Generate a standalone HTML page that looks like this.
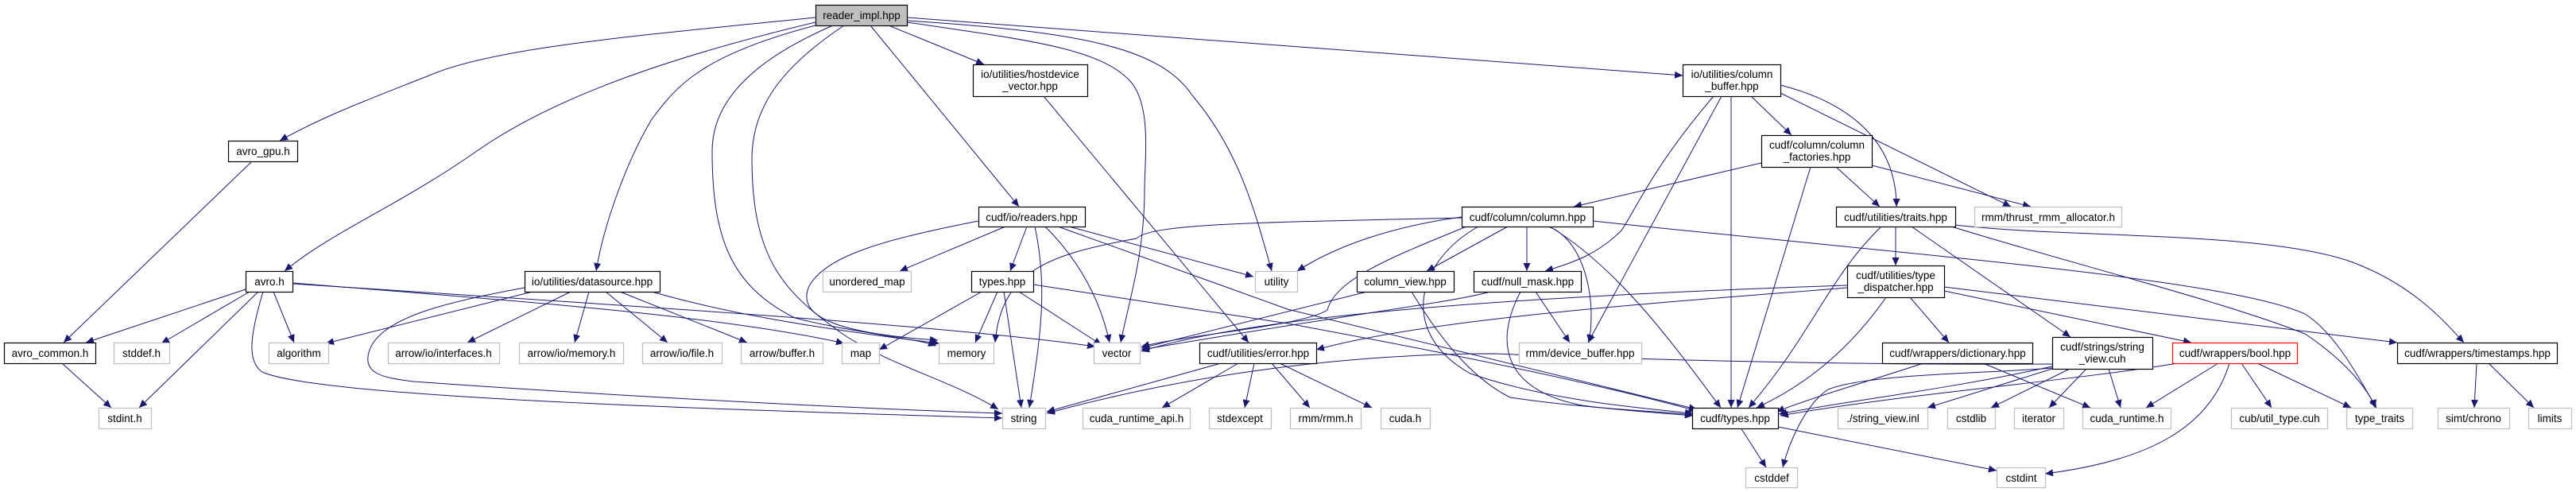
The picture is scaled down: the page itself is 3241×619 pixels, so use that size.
<!DOCTYPE html>
<html><head><meta charset="utf-8"><style>
html,body{margin:0;padding:0;background:#fff;}
svg{display:block;}
text{font-family:"Liberation Sans",Arial,sans-serif;font-size:13.5px;fill:#000;text-anchor:middle;}
.n{fill:#fff;stroke:#000;stroke-width:1.2;}
.g{fill:#fff;stroke:#bfbfbf;stroke-width:1.2;}
.r{fill:#fff;stroke:#ff0000;stroke-width:1.2;}
.e{fill:none;stroke:#191970;stroke-width:1;marker-end:url(#a);}
</style></head><body>
<svg width="3241" height="619" viewBox="0 0 3241 619" xmlns="http://www.w3.org/2000/svg">
<defs><marker id="a" markerUnits="userSpaceOnUse" markerWidth="11" markerHeight="9" refX="10" refY="4.5" orient="auto"><path d="M0,0 L10,4.5 L0,9 Z" fill="#191970"/></marker></defs>

<g>
<path class="e" d="M1026,22 C800,45 620,60 540,95 C450,130 400,150 352,177"/>
<path class="e" d="M1026,28 C850,70 700,120 600,190 C500,260 420,290 358,341"/>
<path class="e" d="M1026,32 C880,70 850,110 820,150 C790,200 760,280 750,341"/>
<path class="e" d="M1048,32 C960,70 896,120 896,190 C896,300 920,360 1000,400 C1080,420 1150,425 1178,435"/>
<path class="e" d="M1062,32 C990,80 946,130 946,200 C946,330 990,370 1060,420 C1120,460 1200,480 1256,515"/>
<path class="e" d="M1118,32 L1238,81"/>
<path class="e" d="M1095,32 L1282,260"/>
<path class="e" d="M1141,28 C1290,50 1380,60 1420,100 C1450,130 1440,200 1440,240 C1440,320 1420,380 1410,431"/>
<path class="e" d="M1141,26 C1360,40 1460,60 1500,120 C1560,190 1580,270 1600,341"/>
<path class="e" d="M1141,22 L2117,95"/>
<path class="e" d="M1313,121 L1571,431"/>
<path class="e" d="M1265,285 L1132,341"/>
<path class="e" d="M1292,285 L1271,341"/>
<path class="e" d="M1302,285 C1318,360 1310,420 1295,513"/>
<path class="e" d="M1315,285 C1360,330 1385,380 1396,431"/>
<path class="e" d="M1345,285 L1577,348"/>
<path class="e" d="M1331,285 L1620,389 L2135,515"/>
<path class="e" d="M1231,278 C1120,300 1040,320 1018,360 C1000,400 1060,420 1180,428"/>
<path class="e" d="M1235,367 L1106,440"/>
<path class="e" d="M1255,367 L1227,431"/>
<path class="e" d="M1263,367 L1285,513"/>
<path class="e" d="M1282,367 L1386,434"/>
<path class="e" d="M1300,358 L1620,407 C1800,440 2000,480 2135,517"/>
<path class="e" d="M309,364 L108,431"/>
<path class="e" d="M314,367 L203,432"/>
<path class="e" d="M325,367 L175,513"/>
<path class="e" d="M344,367 L370,431"/>
<path class="e" d="M331,367 C315,420 310,455 330,468 C400,500 900,515 1261,526"/>
<path class="e" d="M368,356 C600,375 900,395 1062,432"/>
<path class="e" d="M368,357 C800,385 1200,410 1378,436"/>
<path class="e" d="M317,203 L80,431"/>
<path class="e" d="M78,457 L140,513"/>
<path class="e" d="M670,367 L410,432"/>
<path class="e" d="M718,367 L588,431"/>
<path class="e" d="M741,367 L723,431"/>
<path class="e" d="M762,367 L840,431"/>
<path class="e" d="M780,367 L940,431"/>
<path class="e" d="M660,362 C560,380 480,400 465,440 C455,470 480,475 520,480 C800,500 1100,515 1261,520"/>
<path class="e" d="M820,367 C900,390 1000,410 1182,432"/>
<path class="e" d="M1536,457 L1317,518"/>
<path class="e" d="M1558,457 L1462,513"/>
<path class="e" d="M1578,457 L1566,513"/>
<path class="e" d="M1600,457 L1648,513"/>
<path class="e" d="M1610,457 L1726,513"/>
<path class="e" d="M2156,121 C2080,210 2060,260 2040,290 C2010,320 1980,330 1944,341"/>
<path class="e" d="M2166,121 L1998,431"/>
<path class="e" d="M2178,121 L2178,513"/>
<path class="e" d="M2203,121 L2254,170"/>
<path class="e" d="M2240,107 C2330,130 2386,180 2386,260"/>
<path class="e" d="M2240,117 L2530,260"/>
<path class="e" d="M2216,205 L1980,260"/>
<path class="e" d="M2278,210 L2186,513"/>
<path class="e" d="M2310,210 L2365,260"/>
<path class="e" d="M2355,208 L2555,260"/>
<path class="e" d="M1839,273 C1750,285 1680,310 1632,341"/>
<path class="e" d="M1845,285 C1760,320 1680,350 1670,390 C1640,410 1500,420 1436,436"/>
<path class="e" d="M1839,274 C1600,280 1450,280 1430,300 C1320,320 1260,340 1252,431"/>
<path class="e" d="M1897,285 L1795,341"/>
<path class="e" d="M1921,285 L1921,341"/>
<path class="e" d="M1948,285 C1990,300 2010,370 1999,431"/>
<path class="e" d="M1950,285 C2040,340 2110,440 2165,513"/>
<path class="e" d="M2004,278 C2400,320 2800,350 2900,395 C2940,420 2970,480 2990,513"/>
<path class="e" d="M1860,285 C1780,330 1760,420 1850,470 C1950,505 2080,515 2130,520"/>
<path class="e" d="M1720,367 L1436,438"/>
<path class="e" d="M1776,367 C1820,440 1860,480 1900,500 C2000,515 2100,518 2130,522"/>
<path class="e" d="M1875,367 C1830,380 1700,395 1436,440"/>
<path class="e" d="M1932,367 L1975,431"/>
<path class="e" d="M1913,367 C1880,430 1890,490 1990,510 C2050,518 2100,520 2130,523"/>
<path class="e" d="M2367,285 C2300,350 2280,420 2200,513"/>
<path class="e" d="M2385,285 L2385,334"/>
<path class="e" d="M2405,285 L2605,424"/>
<path class="e" d="M2455,285 C2600,330 2800,380 2900,420 C2960,460 2985,500 2988,513"/>
<path class="e" d="M2460,283 C2600,300 2850,290 2960,330 C3040,360 3080,410 3100,431"/>
<path class="e" d="M2324,359 C2000,370 1600,390 1436,442"/>
<path class="e" d="M2324,362 C2100,380 1800,400 1656,440"/>
<path class="e" d="M2373,374 C2320,450 2260,490 2210,513"/>
<path class="e" d="M2403,374 L2452,431"/>
<path class="e" d="M2446,366 L2757,431"/>
<path class="e" d="M2446,361 L3016,431"/>
<path class="e" d="M2420,457 C2350,480 2280,500 2235,518"/>
<path class="e" d="M2495,457 L2630,513"/>
<path class="e" d="M2582,461 C2450,490 2320,505 2238,521"/>
<path class="e" d="M2582,464 L2425,513"/>
<path class="e" d="M2582,463 C2500,470 2350,470 2300,490 C2270,510 2250,560 2243,588"/>
<path class="e" d="M2582,458 C2300,460 2000,450 1880,445 C1700,445 1500,470 1317,520"/>
<path class="e" d="M2604,464 L2505,513"/>
<path class="e" d="M2625,464 L2578,513"/>
<path class="e" d="M2653,464 L2668,513"/>
<path class="e" d="M2740,457 C2600,480 2400,495 2240,523"/>
<path class="e" d="M2791,457 L2700,513"/>
<path class="e" d="M2805,457 C2780,540 2700,580 2573,596"/>
<path class="e" d="M2820,457 L2858,513"/>
<path class="e" d="M2840,457 L2958,513"/>
<path class="e" d="M3116,457 L3113,513"/>
<path class="e" d="M3131,457 L3188,513"/>
<path class="e" d="M2190,538 L2222,588"/>
<path class="e" d="M2237,537 L2512,592"/>
</g>

<g>
<rect x="1026.5" y="6.5" width="115" height="26" fill="#bfbfbf" stroke="#000" stroke-width="1.2"/><text x="1084" y="24">reader_impl.hpp</text>
<rect class="n" x="287.5" y="177.5" width="87" height="26"/><text x="331" y="195">avro_gpu.h</text>
<rect class="n" x="309.5" y="341.5" width="59" height="26"/><text x="339" y="359">avro.h</text>
<rect class="n" x="660.5" y="341.5" width="170" height="26"/><text x="745" y="359">io/utilities/datasource.hpp</text>
<rect class="n" x="5.5" y="431.5" width="115" height="26"/><text x="63" y="449">avro_common.h</text>
<rect class="g" x="143.5" y="431.5" width="70" height="26"/><text x="178" y="449">stddef.h</text>
<rect class="g" x="338.5" y="431.5" width="75" height="26"/><text x="376" y="449">algorithm</text>
<rect class="g" x="488.5" y="431.5" width="140" height="26"/><text x="558" y="449">arrow/io/interfaces.h</text>
<rect class="g" x="653.5" y="431.5" width="131" height="26"/><text x="719" y="449">arrow/io/memory.h</text>
<rect class="g" x="808.5" y="431.5" width="100" height="26"/><text x="858" y="449">arrow/io/file.h</text>
<rect class="g" x="124.5" y="513.5" width="66" height="26"/><text x="157" y="531">stdint.h</text>
<rect class="n" x="1224.5" y="81.5" width="144" height="40"/><text x="1296" y="98">io/utilities/hostdevice</text><text x="1296" y="113">_vector.hpp</text>
<rect class="n" x="1231.5" y="260.5" width="134" height="25"/><text x="1298" y="278">cudf/io/readers.hpp</text>
<rect class="g" x="1035.5" y="341.5" width="111" height="26"/><text x="1091" y="359">unordered_map</text>
<rect class="n" x="1222.5" y="341.5" width="78" height="26"/><text x="1261" y="359">types.hpp</text>
<rect class="g" x="1579.5" y="341.5" width="53" height="26"/><text x="1606" y="359">utility</text>
<rect class="g" x="932.5" y="431.5" width="103" height="26"/><text x="984" y="449">arrow/buffer.h</text>
<rect class="g" x="1059.5" y="431.5" width="47" height="26"/><text x="1083" y="449">map</text>
<rect class="g" x="1181.5" y="431.5" width="69" height="26"/><text x="1216" y="449">memory</text>
<rect class="g" x="1376.5" y="431.5" width="58" height="26"/><text x="1405" y="449">vector</text>
<rect class="n" x="1509.5" y="431.5" width="147" height="26"/><text x="1583" y="449">cudf/utilities/error.hpp</text>
<rect class="g" x="1261.5" y="513.5" width="54" height="26"/><text x="1288" y="531">string</text>
<rect class="g" x="1362.5" y="513.5" width="135" height="26"/><text x="1430" y="531">cuda_runtime_api.h</text>
<rect class="g" x="1521.5" y="513.5" width="78" height="26"/><text x="1560" y="531">stdexcept</text>
<rect class="n" x="2117.5" y="81.5" width="123" height="40"/><text x="2179" y="98">io/utilities/column</text><text x="2179" y="113">_buffer.hpp</text>
<rect class="n" x="2216.5" y="170.5" width="139" height="40"/><text x="2286" y="187">cudf/column/column</text><text x="2286" y="202">_factories.hpp</text>
<rect class="n" x="1839.5" y="260.5" width="165" height="25"/><text x="1922" y="278">cudf/column/column.hpp</text>
<rect class="n" x="2310.5" y="260.5" width="150" height="25"/><text x="2385" y="278">cudf/utilities/traits.hpp</text>
<rect class="g" x="2484.5" y="260.5" width="185" height="25"/><text x="2577" y="278">rmm/thrust_rmm_allocator.h</text>
<rect class="n" x="1707.5" y="341.5" width="122" height="26"/><text x="1768" y="359">column_view.hpp</text>
<rect class="n" x="1854.5" y="341.5" width="135" height="26"/><text x="1922" y="359">cudf/null_mask.hpp</text>
<rect class="n" x="2324.5" y="334.5" width="122" height="40"/><text x="2385" y="351">cudf/utilities/type</text><text x="2385" y="366">_dispatcher.hpp</text>
<rect class="g" x="1911.5" y="431.5" width="154" height="26"/><text x="1988" y="449">rmm/device_buffer.hpp</text>
<rect class="n" x="2368.5" y="431.5" width="189" height="26"/><text x="2463" y="449">cudf/wrappers/dictionary.hpp</text>
<rect class="n" x="2582.5" y="424.5" width="126" height="40"/><text x="2645" y="441">cudf/strings/string</text><text x="2645" y="456">_view.cuh</text>
<rect class="r" x="2733.5" y="431.5" width="157" height="26"/><text x="2812" y="449">cudf/wrappers/bool.hpp</text>
<rect class="n" x="3016.5" y="431.5" width="201" height="26"/><text x="3117" y="449">cudf/wrappers/timestamps.hpp</text>
<rect class="g" x="1623.5" y="513.5" width="89" height="26"/><text x="1668" y="531">rmm/rmm.h</text>
<rect class="g" x="1737.5" y="513.5" width="62" height="26"/><text x="1768" y="531">cuda.h</text>
<rect class="n" x="2129.5" y="513.5" width="108" height="26"/><text x="2183" y="531">cudf/types.hpp</text>
<rect class="g" x="2312.5" y="513.5" width="113" height="26"/><text x="2369" y="531">./string_view.inl</text>
<rect class="g" x="2450.5" y="513.5" width="60" height="26"/><text x="2480" y="531">cstdlib</text>
<rect class="g" x="2534.5" y="513.5" width="62" height="26"/><text x="2565" y="531">iterator</text>
<rect class="g" x="2620.5" y="513.5" width="111" height="26"/><text x="2676" y="531">cuda_runtime.h</text>
<rect class="g" x="2807.5" y="513.5" width="121" height="26"/><text x="2868" y="531">cub/util_type.cuh</text>
<rect class="g" x="2952.5" y="513.5" width="83" height="26"/><text x="2994" y="531">type_traits</text>
<rect class="g" x="3067.5" y="513.5" width="90" height="26"/><text x="3112" y="531">simt/chrono</text>
<rect class="g" x="3181.5" y="513.5" width="54" height="26"/><text x="3208" y="531">limits</text>
<rect class="g" x="2196.5" y="588.5" width="65" height="25"/><text x="2229" y="606">cstddef</text>
<rect class="g" x="2512.5" y="588.5" width="61" height="25"/><text x="2543" y="606">cstdint</text>
</g>
</svg>
</body></html>
